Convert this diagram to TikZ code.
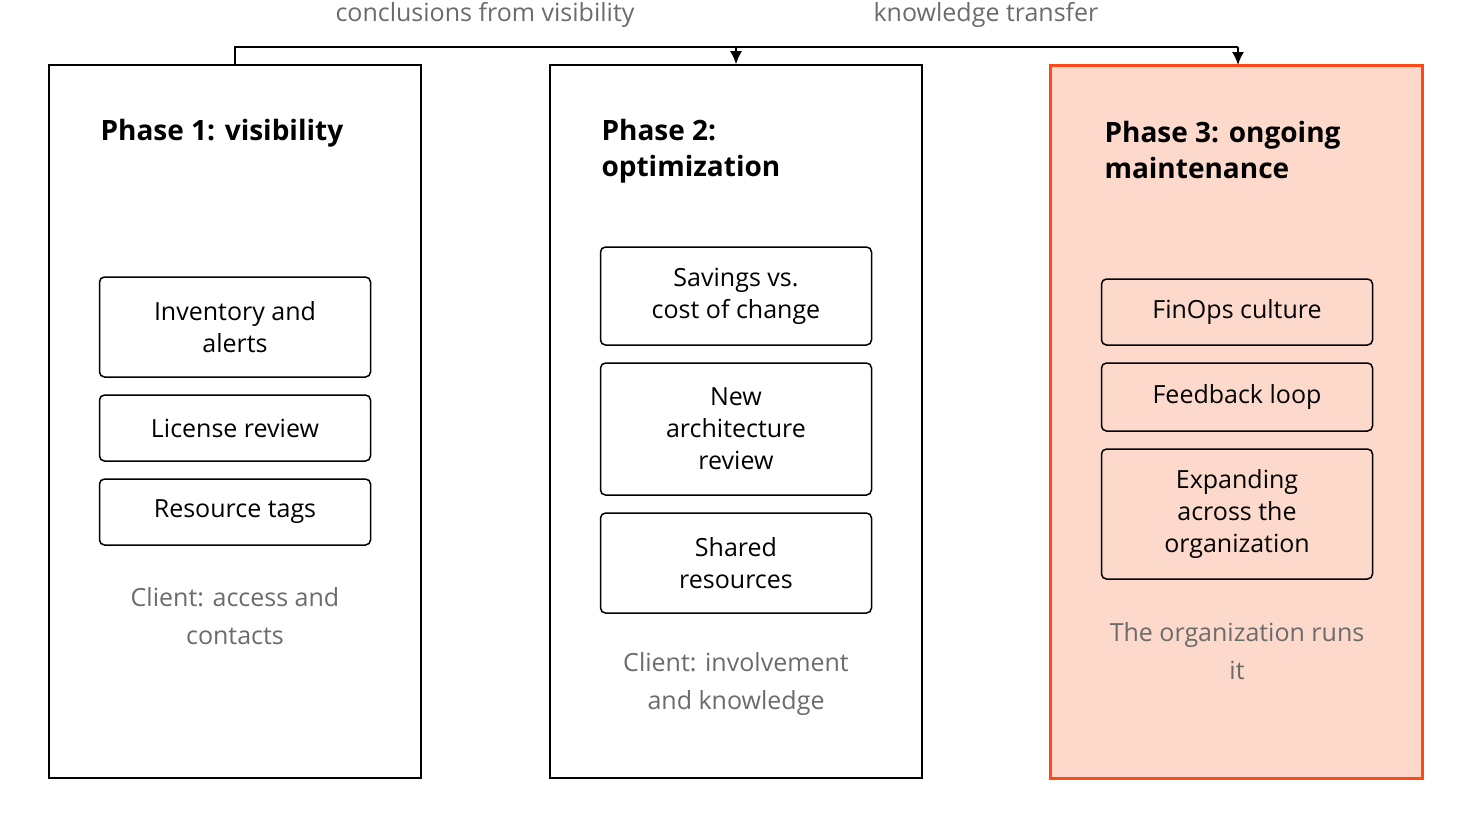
\documentclass[tikz,border=0pt]{standalone}
\usepackage{fontspec}
\setmainfont{Open Sans}
\usetikzlibrary{positioning,arrows.meta}
\definecolor{accent}{HTML}{FF4A17}
\definecolor{accentfill}{HTML}{FDD9CC}
\definecolor{note}{HTML}{6B6B6B}
\tikzset{
  phasebox/.style={draw=black, line width=1.6pt, minimum width=372pt, minimum height=713pt, inner sep=0pt},
  hotbox/.style={phasebox, draw=accent, fill=accentfill, line width=3pt},
  stepbox/.style={draw=black, line width=1.5pt, rounded corners=5pt, minimum width=271pt, align=center, inner sep=0pt, font=\fontsize{25}{32}\selectfont},
  title/.style={anchor=north west, align=left, font=\fontsize{28}{36}\selectfont\bfseries},
  remark/.style={text=note, align=center, font=\fontsize{25}{38}\selectfont},
  toplabel/.style={text=note, font=\fontsize{25}{28}\selectfont},
}
\begin{document}
\begin{tikzpicture}[x=1pt,y=-1pt]
\useasboundingbox (0,0) rectangle (1472,828);
% phases
\node[phasebox] (p1) at (235,421.5) {};
\node[phasebox] (p2) at (736,421.5) {};
\node[hotbox] (p3) at (1236.5,422) {};
\node[title] (t1) at (97,116) {Phase 1: visibility};
\node[title] (t2) at (598,116) {Phase 2:\\optimization};
\node[title] (t3) at (1101,118) {Phase 3: ongoing\\maintenance};
% phase 1 steps
\node[stepbox, minimum height=100pt] (inv) at (235,327) {Inventory and\\alerts};
\node[stepbox, minimum height=66pt] (lic) at (235,428) {License review};
\node[stepbox, minimum height=66pt] (res) at (235,512) {Resource tags};
\node[remark] (c1) at (235,616) {Client: access and\\contacts};
% phase 2 steps
\node[stepbox, minimum height=98pt] (sav) at (736,296) {Savings vs.\\cost of change};
\node[stepbox, minimum height=132pt] (arch) at (736,429) {New\\architecture\\review};
\node[stepbox, minimum height=100pt] (shr) at (736,563) {Shared\\resources};
\node[remark] (c2) at (736,684) {Client: involvement\\and knowledge};
% phase 3 steps
\node[stepbox, minimum height=66pt] (fin) at (1237,312) {FinOps culture};
\node[stepbox, minimum height=68pt] (fb) at (1237,397) {Feedback loop};
\node[stepbox, minimum height=130pt] (exp) at (1237,514) {Expanding\\across the\\organization};
\node[remark] (c3) at (1237,651) {The organization runs\\it};
% transfer line
\coordinate (up) at (235,47);
\coordinate (mid) at (736,47);
\coordinate (far) at (1238,47);
\draw[line width=1.6pt] (p1.north) -- (up) -- (far);
\draw[line width=1.6pt, -{Latex[length=13pt,width=12pt]}] (mid) -- (p2.north);
\draw[line width=1.6pt, -{Latex[length=13pt,width=12pt]}] (far) -- (1238,65);
\node[toplabel] (l1) at (485,15) {conclusions from visibility};
\node[toplabel] (l2) at (986,15) {knowledge transfer};
\end{tikzpicture}
\end{document}
